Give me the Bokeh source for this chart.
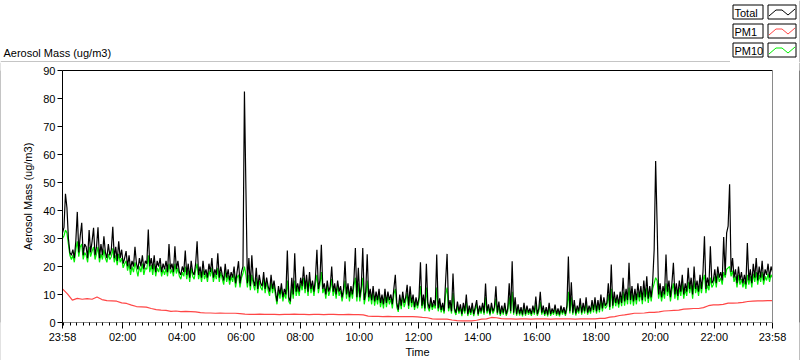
import numpy as np
from bokeh.plotting import figure
from bokeh.layouts import column, row
from bokeh.models import ColumnDataSource, FixedTicker, LinearAxis, Range1d
from bokeh.core.properties import value
from bokeh.embed import file_html
from bokeh.resources import INLINE

# ---------------- data (minutes after midnight; 23:58 = -2), sampled every 3 min ----------------
t_first, t_last = -2, 1438
total = [
    32, 34, 46, 41, 30, 25, 24, 26, 23, 29, 39.5, 25, 31, 35.6, 24, 28, 27, 23, 33, 25, 29, 33.8, 24, 27, 34, 23, 28, 24, 30.8, 25, 23, 28, 24, 26, 34.2, 23, 27, 22, 29, 23,
    26, 21, 23, 25.5, 20, 24, 19, 22, 20, 27, 21, 19, 23, 20, 24, 19, 22, 21, 33.2, 20, 23, 19, 24, 18, 22, 20, 23, 18, 21, 19, 22, 18, 28, 19, 21, 18, 27.2, 19, 22, 18,
    17, 20, 18, 25.7, 17, 21, 16, 22, 18, 17, 21, 29, 17, 20, 16, 22, 17, 19, 16, 21, 18, 23, 16, 19, 17, 24.7, 16, 20, 17, 15, 21, 16, 19, 15, 18, 16, 20, 14, 18, 21.9,
    14, 18, 20, 82.5, 47.8, 14, 23, 13, 24, 15, 13, 19.5, 12, 17, 14, 13, 18, 12, 16, 13, 11, 17, 12, 15, 11, 7.5, 13, 10, 14, 9, 12, 10, 25.7, 9, 7.5, 16, 10, 24.7, 11, 14,
    11, 16, 13, 20, 12, 17, 11, 18, 12, 15, 11, 16, 26, 12, 15, 27.8, 12, 14, 10, 15, 11, 13, 20, 11, 14, 10, 15, 11, 13, 9, 12, 21.9, 10, 14, 9, 13, 10, 15, 26.6, 9,
    19.5, 9, 13, 26.6, 8, 11, 24.4, 9, 12, 8, 13, 7.5, 11, 8, 12, 7, 10, 6.5, 12, 7, 11, 8, 10, 6.5, 12, 17, 7, 4.6, 10, 6, 11, 7, 9, 13.5, 6, 12.9, 7, 10, 5.5, 9,
    6, 9, 21.5, 6, 10, 5, 21, 7, 5, 9, 5.5, 8, 6, 24.3, 5, 8.6, 4.5, 7, 4, 14.7, 24.5, 5, 8, 4, 17.5, 5, 3.5, 7.5, 4, 6.5, 3, 7, 4, 10, 3, 6, 3.5, 7, 3, 5.5,
    8, 3, 6, 4, 7, 3.5, 13.9, 4, 6.5, 3.2, 7, 4, 5.5, 12.9, 3.5, 7.5, 3, 6, 3.5, 7, 3, 5, 14, 4, 21.9, 3.5, 9, 3, 6.5, 3.2, 5.5, 2.8, 7, 3, 6, 3.5, 5, 3, 6, 3.5,
    9.3, 3, 5, 11, 3.5, 6, 3, 5.5, 2.8, 7, 3, 5, 3.5, 6.4, 3, 5, 2.8, 6, 3.5, 5.5, 3, 6, 23.6, 4, 14.4, 3.5, 8, 3.2, 6, 4, 8.6, 3.5, 7, 4, 9, 3.5, 6, 4, 8, 4.5,
    9, 4, 8, 4.5, 10, 5, 9, 6, 7, 14, 5.5, 20.7, 6, 11, 7, 10, 6.5, 11, 7, 16, 7.5, 12, 8, 21.3, 8, 13, 7.5, 12, 8, 14, 9, 13, 8, 15, 9, 16.5, 8.5, 13, 9, 14.7,
    26, 57.7, 35, 10, 14, 9, 13, 10, 24.3, 11, 15, 9, 14, 21.3, 10, 14, 9.5, 15, 11, 17, 10, 14, 11, 19.5, 12, 16, 10, 20, 12, 15, 11, 17, 12, 18, 30.8, 12, 16, 13, 27.2, 14,
    15, 19, 14, 20, 16, 18, 15, 30.5, 17, 32, 34.4, 49.4, 18, 23, 16, 19, 14, 20, 15, 18, 14, 17, 13.6, 28.4, 15, 19, 14, 21, 16, 23, 15, 20, 16, 22, 15, 19, 17, 21, 16, 20, 18,
]
pm10 = [
    30, 31, 33, 32, 28, 24, 22.5, 24, 21.5, 26, 29, 23.5, 27, 28, 22.5, 25, 24, 21.5, 27, 23.5, 25.5, 27, 22.5, 24.5, 27, 21.5, 24.5, 22.5, 26, 23, 21.5, 24.5, 22.5, 23.5, 26.5, 21.5, 24, 20.5, 24.5, 21.5,
    23, 19.5, 21, 22, 18.5, 21, 17, 20, 18, 21.5, 19, 16.5, 20, 18, 21, 17, 19.5, 19, 24, 18, 20.5, 17, 21, 16.5, 19.5, 18, 20.5, 16.5, 19, 17, 19.5, 16.5, 21, 17.5, 19, 16.5, 21, 17.5, 19.5, 16.5,
    15.5, 18, 16.5, 20, 15.5, 19, 14.5, 19.5, 16.5, 15.5, 18.5, 21, 15.5, 18, 14.5, 19, 15.5, 17.5, 14.5, 18.5, 16.5, 19.5, 14.5, 17.5, 15.5, 19.5, 14.5, 18, 15.5, 13.5, 18.5, 14.5, 17, 13.5, 16.5, 14.5, 17.5, 12.5, 16, 17,
    12.5, 16, 17.5, 20, 17, 12.5, 17, 11.5, 17, 13.5, 11.5, 16, 10.5, 15, 12.5, 11.5, 15.5, 10.5, 14.5, 11.5, 9.5, 14.5, 10.5, 13.5, 9.5, 6.5, 11.5, 8.5, 12.5, 7.5, 10.5, 8.5, 15, 7.5, 6.5, 13, 8.5, 15, 9.5, 12.5,
    9.5, 14, 11.5, 16, 10.5, 15, 9.5, 15.5, 10.5, 13.5, 9.5, 14, 17, 10.5, 13.5, 18, 10.5, 12.5, 8.5, 13.5, 9.5, 11.5, 15.5, 9.5, 12.5, 8.5, 13.5, 9.5, 11.5, 7.5, 10.5, 15, 8.5, 12.5, 7.5, 11.5, 8.5, 13, 16, 7.5,
    14, 7.5, 11.5, 16, 6.5, 9.5, 15, 7.5, 10.5, 6.5, 11, 6, 9.5, 6.5, 10.5, 5.5, 8.5, 5, 10.5, 5.5, 9.5, 6.5, 8.5, 5, 10, 12, 5.5, 3.8, 8.5, 4.8, 9.5, 5.5, 7.5, 10.5, 4.8, 10, 5.5, 8.5, 4.5, 7.5,
    5, 7.5, 13, 5, 8.5, 4, 12.5, 5.5, 4, 7.5, 4.5, 6.5, 5, 12.5, 4, 7, 3.6, 5.8, 3.2, 10, 12.5, 4, 6.5, 3.2, 10.5, 4, 2.7, 6, 3.2, 5.2, 2.3, 5.5, 3.2, 7.5, 2.3, 4.8, 2.7, 5.5, 2.3, 4.5,
    6.5, 2.4, 5, 3.2, 5.8, 2.8, 9, 3.2, 5.3, 2.5, 5.8, 3.2, 4.5, 8.5, 2.8, 6, 2.4, 4.8, 2.8, 5.8, 2.4, 4, 9, 3.2, 11, 2.8, 7, 2.4, 5.3, 2.5, 4.5, 2.2, 5.8, 2.4, 4.8, 2.8, 4, 2.4, 4.8, 2.8,
    6.5, 2.4, 4, 7.5, 2.8, 4.8, 2.4, 4.5, 2.2, 5.5, 2.4, 4, 2.8, 5, 2.4, 4, 2.2, 4.8, 2.8, 4.5, 2.4, 4.8, 11, 3.2, 9, 2.8, 6.5, 2.5, 4.8, 3.2, 7, 2.8, 5.8, 3.2, 7, 2.8, 4.8, 3.2, 6.5, 3.6,
    7.5, 3.2, 6.5, 3.6, 8, 4, 7.5, 5, 5.8, 10, 4.5, 12, 5, 9, 5.8, 8.5, 5.3, 9, 5.8, 11, 6, 10, 6.5, 12.5, 6.5, 10.5, 6, 10, 6.5, 11, 7.5, 11, 6.5, 12, 7.5, 12.5, 7, 11, 7.5, 12,
    14, 16, 15, 8.5, 11.5, 7.5, 11, 8.5, 14, 9.5, 12.5, 7.5, 11.5, 14, 8.5, 12, 8, 12.5, 9.5, 14, 8.5, 12, 9.5, 14.5, 10.5, 13.5, 8.5, 15, 10.5, 13, 9.5, 14, 10.5, 15, 17, 10.5, 13.5, 11.5, 16, 12.5,
    13.5, 16.5, 12.5, 17.5, 14.5, 16, 13.5, 18, 16, 19, 19.5, 20, 16.5, 18.5, 14.5, 16.5, 12.5, 17, 13.5, 15.5, 12.5, 15, 12, 17, 13.5, 16.5, 12.5, 17.5, 14.5, 18, 13.5, 17, 14.5, 18, 13.5, 16.5, 15, 17.5, 14.5, 17, 16,
]
pm1 = [  # every 10 min
    12.0, 10.2, 8.0, 8.6, 8.3, 8.5, 8.3, 9.1, 8.2, 7.8, 7.7, 7.6, 7.0,
    6.8, 6.2, 5.7, 5.6, 5.5, 5.0, 4.6, 4.4, 4.3, 4.0, 4.1, 3.9, 4.0, 3.9, 3.8, 3.5, 3.4, 3.4, 3.3, 3.4, 3.3, 3.3, 3.3, 3.2,
    3.0, 2.9, 2.9, 3.0, 2.9, 2.9, 2.9, 2.8, 2.9, 2.9, 3.0, 2.9, 2.9, 2.8, 2.9, 2.9, 2.8, 2.9, 2.9, 2.8, 2.8, 2.9, 2.8, 2.8, 2.7,
    2.3, 2.2, 2.2, 2.1, 2.2, 2.1, 2.1, 2.1, 2.1, 2.1, 2.0, 1.8, 1.7, 1.3, 1.2, 1.2, 1.2, 0.9, 0.7, 0.6, 0.6, 0.6, 0.8, 1.2, 1.3, 1.8, 1.7, 1.4, 1.3,
    1.3, 1.2, 1.3, 1.3, 1.2, 1.3, 1.3, 1.3, 1.2, 1.3, 1.3, 1.3, 1.3, 1.2, 1.3, 1.3, 1.3, 1.3,
    1.5, 1.5, 1.9, 2.1, 2.5, 2.7, 3.0, 3.3, 3.3, 3.4, 3.6, 3.6, 3.8, 4.1, 4.2, 4.3, 4.4, 4.8, 4.9, 5.0, 5.0, 5.3,
    6.0, 6.3, 6.3, 6.5, 6.9, 6.9, 7.0, 7.2, 7.5, 7.6, 7.7, 7.7, 7.8, 7.8,
]
x_ticks = [-2, 120, 240, 360, 480, 600, 720, 840, 960, 1080, 1200, 1320, 1438]
x_tick_labels = ["23:58", "02:00", "04:00", "06:00", "08:00", "10:00", "12:00",
                 "14:00", "16:00", "18:00", "20:00", "22:00", "23:58"]
y_ticks = [0, 10, 20, 30, 40, 50, 60, 70, 80, 90]
series_names = ["Total", "PM1", "PM10"]
series_colors = ["#000000", "#ff4646", "#00f000"]
y_title = "Aerosol Mass (ug/m3)"
x_title = "Time"

FONT = "Liberation Sans"
FS = "11px"
GRAY = "#8a8a8a"
W, H = 800, 361
TOP_H = 62
MAIN_W, MAIN_H = W - 2, H - TOP_H - 1
FL, FT, FR, FB = 62, 70, 772, 322  # frame edges in page pixels

t_total = np.linspace(t_first, t_last, len(total))
t_pm10 = np.linspace(t_first, t_last, len(pm10))
t_pm1 = np.linspace(t_first, t_last, len(pm1))


def strip(w, h, color):
    s = figure(width=w, height=h, output_backend="svg", toolbar_location=None,
               x_range=Range1d(0, 1), y_range=Range1d(0, 1),
               x_axis_location=None, y_axis_location=None, min_border=0)
    s.grid.visible = False
    s.outline_line_color = None
    s.background_fill_color = color
    s.border_fill_color = color
    return s


# ---------------- header strip: title + legend (pixel coordinates) ----------------
hd = figure(width=W, height=TOP_H, output_backend="svg", toolbar_location=None,
            x_range=Range1d(0, W), y_range=Range1d(TOP_H, 0),
            x_axis_location=None, y_axis_location=None, min_border=0)
hd.grid.visible = False
hd.outline_line_color = None
hd.background_fill_color = "white"
hd.border_fill_color = "white"

TXT_DY = 4  # compensation for text baseline placement
hd.text(x=[3], y=[56 - TXT_DY], text=[y_title], text_font=value(FONT), text_font_size=value(FS),
        text_color="black", text_baseline="alphabetic", text_align="left")
hd.segment(x0=[0], y0=[61.5], x1=[729.5], y1=[61.5], line_color=GRAY, line_width=1)
hd.segment(x0=[799.5], y0=[0], x1=[799.5], y1=[TOP_H], line_color=GRAY, line_width=1)

row_tops = [4, 23, 42]
hd.quad(left=[732.5] * 3 + [767.5] * 3, right=[762.5] * 3 + [795.5] * 3,
        top=[t + 0.5 for t in row_tops] * 2, bottom=[t + 14.5 for t in row_tops] * 2,
        fill_color="white", line_color="black", line_width=1)
hd.text(x=[734] * 3, y=[t + 12 - TXT_DY for t in row_tops], text=series_names,
        text_font=value(FONT), text_font_size=value(FS), text_color="black",
        text_baseline="alphabetic", text_align="left")
zig_x = [1, 8, 14, 20, 27]
zig_y = [11, 5, 5, 10, 4]
for color, top in zip(series_colors, row_tops):
    hd.line([767.5 + a for a in zig_x], [top + 0.5 + b for b in zig_y], line_color=color, line_width=1)

# ---------------- main chart ----------------
p = figure(width=MAIN_W, height=MAIN_H, output_backend="svg", toolbar_location=None,
           x_range=Range1d(-2, 1438), y_range=Range1d(0, 90),
           min_border_left=FL - 1, min_border_right=MAIN_W - (FR - 1),
           min_border_top=FT - TOP_H, min_border_bottom=MAIN_H - (FB - TOP_H),
           x_axis_label=x_title, y_axis_label=y_title)
p.grid.visible = False
p.outline_line_color = None
p.background_fill_color = "white"
p.border_fill_color = "white"

xa = p.xaxis[0]
ya = p.yaxis[0]
minor = [k * 40 / 3 for k in range(0, 108)]
xa.ticker = FixedTicker(ticks=x_ticks, minor_ticks=minor)
xa.major_label_overrides = {k: v for k, v in zip(x_ticks, x_tick_labels)}
ya.ticker = FixedTicker(ticks=y_ticks)
for ax in (xa, ya):
    ax.major_label_text_font = FONT
    ax.major_label_text_font_size = FS
    ax.major_label_text_color = "black"
    ax.axis_label_text_font = FONT
    ax.axis_label_text_font_size = FS
    ax.axis_label_text_font_style = "normal"
    ax.axis_label_text_color = "black"
    ax.major_tick_line_color = "black"
    ax.major_tick_in = 0
xa.major_tick_out = 6
xa.minor_tick_out = 3
xa.minor_tick_in = 0
xa.minor_tick_line_color = "black"
xa.axis_line_color = GRAY
xa.major_label_standoff = 2
xa.axis_label_standoff = 0
ya.major_tick_out = 5
ya.minor_tick_line_color = None
ya.axis_line_color = "black"
ya.major_label_standoff = 2
ya.axis_label_standoff = 6

top_ax = LinearAxis(ticker=FixedTicker(ticks=[]), major_label_text_font_size="0px",
                    axis_line_color="black", major_tick_line_color=None, minor_tick_line_color=None)
p.add_layout(top_ax, "above")
right_ax = LinearAxis(ticker=FixedTicker(ticks=[]), major_label_text_font_size="0px",
                      axis_line_color=GRAY, major_tick_line_color=None, minor_tick_line_color=None)
p.add_layout(right_ax, "right")

p.line(t_pm10, pm10, line_color=series_colors[2], line_width=1.2)
p.line(t_pm1, pm1, line_color=series_colors[1], line_width=1.2)
p.line(t_total, total, line_color=series_colors[0], line_width=1.2)

page = column(hd,
              row(strip(1, MAIN_H, GRAY), p, strip(1, MAIN_H, "#000000"), spacing=0),
              strip(W, 1, "#000000"),
              spacing=0)
open("out.html", "w").write(file_html(page, INLINE))
